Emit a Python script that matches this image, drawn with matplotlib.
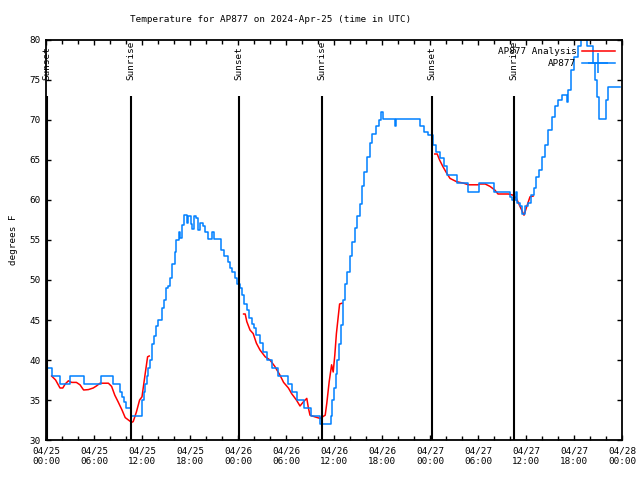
import matplotlib
matplotlib.use('Agg')
import matplotlib.pyplot as plt
import matplotlib.dates as mdates
from matplotlib.lines import Line2D
import pandas as pd

plt.rcParams['font.family'] = 'DejaVu Sans Mono'
plt.rcParams['font.size'] = 6.7

start = pd.Timestamp('2024-04-25 00:00')

# AP877 observations: hours after start, temperature (F), drawn as steps
obs_hours = [0.1, 0.7, 1.8, 3.0, 4.7, 6.9, 8.4, 9.2, 9.45, 9.7, 10.0, 10.6, 11.75,
             12.0, 12.2, 12.4, 12.6, 12.8, 13.0, 13.2, 13.5, 13.8, 14.0, 14.5, 14.7,
             15.0, 15.3, 15.5, 15.8, 16.1, 16.3, 16.6, 16.75, 17.0, 17.3, 17.6, 17.8,
             18.1, 18.3, 18.5, 18.75, 19.0, 19.3, 19.6, 19.9, 20.2, 20.8, 21.0, 21.9,
             22.3, 22.7, 23.0, 23.3, 23.6, 23.9, 24.2, 24.5, 24.8, 25.1, 25.4, 25.7,
             26.0, 26.3, 26.7, 27.1, 27.6, 28.2, 29.0, 30.2, 30.8, 31.4, 32.2, 33.1,
             34.3, 35.6, 35.8, 36.0, 36.2, 36.4, 36.6, 36.9, 37.1, 37.4, 37.6, 38.0,
             38.3, 38.6, 38.9, 39.2, 39.5, 39.75, 40.1, 40.5, 40.8, 41.2, 41.6, 41.85,
             42.1, 43.6, 43.8, 46.8, 47.3, 47.8, 48.4, 48.8, 49.25, 49.7, 50.1, 51.35,
             52.7, 54.1, 56.0, 58.0, 58.3, 58.7, 58.9, 59.2, 59.5, 59.9, 60.2, 60.6,
             61.0, 61.3, 61.6, 62.0, 62.4, 62.8, 63.2, 63.6, 64.0, 64.5, 65.1, 65.3,
             65.6, 66.0, 66.5, 66.9, 67.6, 68.4, 68.6, 68.9, 69.1, 70.0, 70.3, 71.75]
obs_temp = [39, 38, 37, 38, 37, 38, 37, 36, 35.4, 34.8, 34, 33, 33,
            35, 36, 37, 38, 39, 40, 42, 43, 44.2, 45, 46.5, 47.5,
            49, 49.2, 50.2, 52, 53.5, 55, 56, 55.2, 56.9, 58.1, 57.1, 58,
            57, 56.4, 58, 57.7, 56.3, 57.1, 56.7, 56, 55.1, 56, 55.1, 53.75,
            53, 52.3, 51.5, 51, 50.2, 49.5, 49, 48.1, 47, 46.3, 45.3, 44.5,
            44, 43.1, 42.1, 41, 40, 39, 38, 37, 36, 35, 34, 33,
            32, 33, 35, 36.5, 38.3, 40, 42, 44.4, 47.5, 49.5, 51, 53,
            54.8, 56.5, 58, 59.5, 61.7, 63.5, 65.4, 67.1, 68.3, 69.2, 70, 71,
            70.1, 69.25, 70.1, 69.2, 68.5, 68.1, 66.9, 66, 65.2, 64.2, 63.1, 62.1,
            61, 62.1, 61, 60.4, 60, 61, 59.6, 59.2, 58.3, 59.2, 59.6, 60.6,
            61.5, 62.9, 63.75, 65.4, 66.9, 68.75, 70.4, 71.7, 72.5, 73.1, 72.3, 73.75,
            76.25, 77.9, 79.2, 80.6, 79.2, 77.1, 75, 72.9, 70.1, 72.5, 74.1, 74.1]

# AP877 Analysis: three overnight windows
ana1_hours = [0.7, 1.2, 1.75, 2.1, 2.4, 2.8, 3.2, 3.8, 4.25, 4.7, 5.3, 5.9, 6.3,
              6.75, 7.8, 8.2, 8.6, 9.0, 9.5, 9.9, 10.3, 10.7, 10.9, 11.3, 11.7,
              12.0, 12.4, 12.7, 12.9]
ana1_temp = [38, 37.5, 36.5, 36.5, 37, 37.4, 37.2, 37.2, 36.9, 36.25, 36.3, 36.5, 36.75,
             37.1, 37.1, 36.7, 35.6, 34.8, 33.75, 32.8, 32.5, 32.2, 32.3, 33.5, 35,
             35.4, 38.3, 40.4, 40.5]
ana2_hours = [24.7, 24.9, 25.1, 25.5, 25.9, 26.3, 26.75, 27.4, 28.0, 28.6, 29.25,
              29.7, 30.3, 30.7, 31.3, 31.75, 32.2, 32.6, 32.8, 33.0, 33.6, 34.25,
              34.9, 35.1, 35.4, 35.7, 35.9, 36.1, 36.3, 36.7, 37.0]
ana2_temp = [45.75, 45.75, 44.8, 43.75, 43.3, 42.1, 41.25, 40.4, 40, 39.2, 38.1,
             37.2, 36.5, 35.8, 35, 34.25, 34.8, 35.2, 34, 33.1, 32.9, 32.7,
             33.1, 34.6, 37.3, 39.4, 38.5, 40.6, 43.3, 47, 47.1]
ana3_hours = [48.6, 48.9, 49.2, 49.6, 50.0, 50.5, 51.3, 52.2, 52.8, 54.0, 54.25,
              54.9, 55.5, 56.1, 56.5, 57.8, 58.4, 58.8, 59.25, 59.75, 60.1, 60.5, 60.9]
ana3_temp = [65.75, 65.75, 65, 64.2, 63.5, 62.7, 62.3, 62.1, 61.9, 61.9, 62,
             62, 61.7, 61.25, 60.75, 60.75, 60.6, 60.2, 59.2, 58.1, 59.2, 60.4, 60.5]

sunset = ['2024-04-25 00:06', '2024-04-26 00:10', '2024-04-27 00:12']
sunrise = ['2024-04-25 10:37', '2024-04-26 10:32', '2024-04-27 10:32']


def to_time(hours):
    return start + pd.to_timedelta(hours, unit='h')


fig = plt.figure(figsize=(6.4, 4.8), dpi=100)
ax = fig.add_axes([46 / 640, 40 / 480, 576 / 640, 400 / 480])

red = '#ff0000'
blue = '#0080ff'

for h, t in [(ana1_hours, ana1_temp), (ana2_hours, ana2_temp), (ana3_hours, ana3_temp)]:
    ax.plot(to_time(h), t, color=red, lw=1.1)
ax.plot(to_time(obs_hours), obs_temp, color=blue, lw=1.1, drawstyle='steps-post')

for name, times in [('Sunset', sunset), ('Sunrise', sunrise)]:
    for s in times:
        x = pd.Timestamp(s)
        ax.vlines(x, 30, 73, color='black', lw=1.5)
        ax.text(x, 75, name, rotation=90, ha='center', va='bottom')

ax.set_xlim(start, pd.Timestamp('2024-04-28 00:00'))
ax.set_ylim(30, 80)
ax.set_yticks(range(30, 81, 5))
ax.xaxis.set_major_locator(mdates.HourLocator(byhour=[0, 6, 12, 18]))
ax.xaxis.set_minor_locator(mdates.HourLocator(byhour=range(0, 24, 2)))
ax.xaxis.set_major_formatter(mdates.DateFormatter('%m/%d\n%H:%M'))
ax.tick_params(which='both', direction='in', top=True, right=True, width=1)
ax.tick_params(which='major', length=3.5, pad=5)
ax.tick_params(which='minor', length=3)
ax.tick_params(axis='y', pad=4)
for sp in ax.spines.values():
    sp.set_linewidth(1.3)

ax.set_ylabel('degrees F', labelpad=8)
fig.text(271 / 640, 1 - 20 / 480, 'Temperature for AP877 on 2024-Apr-25 (time in UTC)',
         ha='center', va='center')

handles = [Line2D([], [], color=red, lw=1.1),
           Line2D([], [], color=blue, lw=1.1, marker='+', markersize=14, markeredgewidth=1.1)]
ax.legend(handles, ['AP877 Analysis', 'AP877'], loc='upper right', frameon=False,
          markerfirst=False, handlelength=3.5, labelspacing=0.3, borderaxespad=0.4,
          handletextpad=0.6)

fig.savefig('out.png', dpi=100)
